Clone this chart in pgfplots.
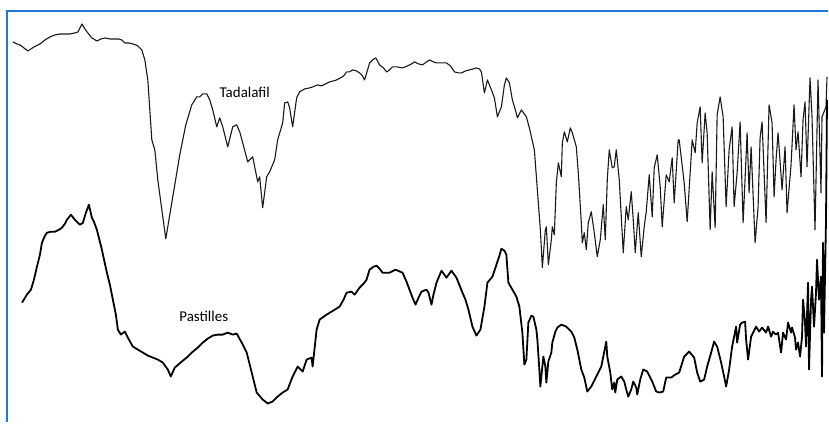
\documentclass[border=0pt]{standalone}
\usepackage{pgfplots}
\pgfplotsset{compat=1.18}
\usepackage{fontspec}
\setmainfont{Carlito}
\definecolor{framebl}{RGB}{30,120,220}
\definecolor{tadal}{RGB}{25,25,25}

\begin{document}
\begin{tikzpicture}
\begin{axis}[
  scale only axis,
  width=829pt, height=423pt,
  xmin=0, xmax=829, ymin=0, ymax=423,
  y dir=reverse,
  hide axis,
  clip=false,
]
% invisible box fixing the picture size
\addplot[draw=none, forget plot] coordinates {(0,0) (829,423)};
% partial frame (top and left edges)
\draw[draw=framebl, line width=2pt] (axis cs:829,11.5) -- (axis cs:7.5,11.5) -- (axis cs:7.5,423);

% Tadalafil spectrum
\addplot[tadal, line width=1.1pt, line join=round] coordinates {
(13,42) (17,44) (20,45) (24,48) (28,51) (34,47) (40,44) (45,40) (50,37) (55,35) (60,34) (65,34) (70,34) (75,33) (78,32) (80,28) (82,24) (85,29) (88,33) (92,38) (97,41) (101,39) (105,38) (110,39) (115,39) (119,39) (122,40) (125,43) (129,43) (133,44) (136,45) (138,46) (142,50) (145,60) (148,80) (150,110) (152,140) (155,150) (158,180) (162,210) (166,239) (170,215) (175,185) (180,155) (186,125) (192,105) (197,97) (200,97) (203,94) (207,94) (210,100) (213,110) (217,127) (220,118) (223,127) (228,147) (233,127) (237,125) (240,132) (243,143) (248,162) (253,157) (258,182) (260,177) (263,208) (267,177) (270,172) (275,160) (278,140) (283,123) (285,103) (288,102) (290,108) (293,127) (297,98) (300,92) (305,89) (310,88) (313,87) (318,85) (322,86) (326,84) (330,82) (334,81) (337,80) (341,78) (344,76) (347,72) (350,72) (353,70) (357,71) (360,73) (363,76) (365,80) (368,70) (370,63) (373,60) (376,58) (378,61) (380,65) (384,68) (387,72) (390,70) (393,67) (398,67) (403,68) (408,66) (412,64) (415,62) (419,64) (423,65) (427,62) (430,60) (434,62) (437,63) (442,63) (447,63) (451,66) (455,72) (459,73) (462,73) (466,71) (470,70) (474,69) (477,68) (480,69) (482,72) (485,93) (488,80) (492,90) (495,98) (498,117) (502,107) (505,85) (507,78) (510,83) (513,100) (516,110) (518,118) (522,110) (527,117) (530,128) (535,150) (538,190) (541,230) (543,268) (546,230) (547,227) (549,265) (552,240) (553,227) (555,235) (557,183) (559,163) (562,177) (563,143) (565,132) (568,142) (571,128) (573,133) (577,147) (579,173) (582,223) (583,243) (585,233) (587,250) (589,223) (592,212) (595,233) (598,257) (601,240) (604,205) (606,240) (608,180) (610,150) (613,168) (615,167) (617,150) (620,180) (624,253) (627,207) (629,220) (632,192) (634,220) (636,253) (639,213) (642,257) (645,227) (647,212) (650,175) (653,217) (655,168) (658,155) (661,187) (663,227) (667,175) (670,182) (673,158) (675,203) (679,140) (680,140) (685,183) (688,222) (693,140) (696,153) (698,123) (701,107) (703,163) (706,113) (708,133) (711,230) (713,172) (716,228) (718,115) (721,97) (724,117) (727,207) (730,150) (733,127) (735,207) (738,173) (741,122) (744,223) (748,133) (750,193) (752,147) (756,243) (759,207) (761,138) (763,122) (767,223) (770,105) (773,123) (775,197) (777,160) (779,133) (783,190) (786,147) (788,213) (792,165) (795,105) (797,150) (799,132) (802,177) (804,120) (806,102) (808,167) (811,78) (813,117) (816,230) (819,80) (822,193) (823,117) (827,107) (828,77)
};

% Pastilles spectrum
\addplot[black, line width=1.8pt, line join=round] coordinates {
(22,303) (27,295) (31,290) (34,280) (37,267) (40,255) (42,243) (45,236) (47,233) (51,232) (55,232) (59,230) (62,228) (65,224) (67,220) (71,215) (75,220) (80,225) (83,223) (86,213) (89,205) (92,218) (94,222) (97,230) (102,250) (107,273) (110,285) (113,300) (116,315) (118,330) (121,335) (125,332) (128,338) (133,347) (138,350) (143,353) (148,356) (153,358) (158,360) (163,363) (168,370) (171,377) (175,368) (182,362) (187,358) (192,353) (198,348) (203,343) (208,339) (213,336) (218,335) (223,335) (228,333) (233,335) (237,334) (242,343) (247,353) (252,373) (257,393) (263,400) (268,404) (273,402) (278,397) (283,393) (288,390) (293,377) (298,367) (303,372) (307,360) (312,358) (313,367) (317,330) (320,320) (327,315) (332,312) (340,307) (344,300) (347,293) (352,292) (355,295) (360,288) (364,284) (367,280) (370,270) (374,267) (377,266) (380,269) (383,273) (390,273) (396,270) (403,273) (407,282) (410,290) (413,298) (416,305) (419,298) (422,292) (427,290) (429,293) (432,305) (434,295) (437,283) (442,271) (447,278) (452,271) (457,278) (463,293) (466,300) (469,310) (473,327) (477,336) (481,330) (485,307) (488,283) (493,277) (497,265) (500,256) (502,249) (505,251) (507,255) (509,283) (513,290) (517,297) (520,307) (523,333) (525,365) (527,360) (529,323) (532,316) (534,317) (537,330) (538,340) (540,370) (541,387) (543,367) (544,357) (546,367) (547,383) (549,362) (552,353) (553,343) (556,332) (558,328) (562,325) (567,327) (572,332) (575,338) (578,350) (582,370) (585,378) (588,392) (592,387) (597,377) (602,367) (604,357) (607,342) (608,357) (611,373) (613,390) (615,383) (616,393) (618,380) (622,377) (625,382) (627,390) (629,397) (632,390) (634,382) (637,388) (638,395) (641,380) (644,370) (648,372) (653,382) (657,392) (660,393) (664,392) (667,378) (672,378) (676,375) (680,373) (685,357) (690,352) (695,358) (698,373) (701,382) (705,380) (708,367) (712,353) (715,342) (718,347) (722,363) (725,377) (727,387) (730,370) (733,347) (737,327) (738,343) (741,325) (743,323) (746,322) (747,340) (749,360) (752,337) (754,333) (757,327) (760,332) (763,328) (767,333) (769,327) (772,337) (774,332) (777,335) (779,333) (782,353) (784,333) (787,340) (789,323) (792,333) (793,328) (796,338) (797,350) (799,343) (801,357) (803,337) (804,300) (806,323) (807,347) (809,283) (810,370) (812,300) (813,287) (815,327) (817,293) (818,260) (820,300) (822,277) (823,377) (824,243) (825,333) (827,220) (828,100)
};

\node[font=\fontsize{15}{18}\selectfont, anchor=center] at (axis cs:245,92) {Tadalafil};
\node[font=\fontsize{15}{18}\selectfont, anchor=center] at (axis cs:204,317) {Pastilles};
\end{axis}
\end{tikzpicture}
\end{document}
